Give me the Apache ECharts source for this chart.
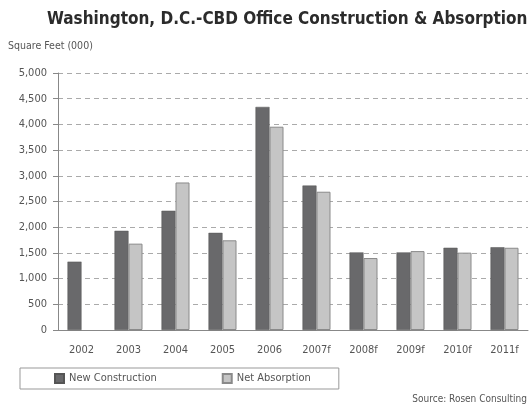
<!DOCTYPE html>
<html>
<head>
<meta charset="utf-8">
<script src="https://cdn.jsdelivr.net/npm/echarts@6/dist/echarts.min.js"></script>
<style>
  html, body { margin: 0; padding: 0; background: #fff; }
  #chart { width: 531px; height: 409px; }
</style>
</head>
<body>
<div id="chart"></div>
<script>
// values (square feet, 000)
const years = ['2002', '2003', '2004', '2005', '2006', '2007f', '2008f', '2009f', '2010f', '2011f'];
const newConstruction = [1330, 1930, 2320, 1890, 4340, 2810, 1510, 1510, 1600, 1610];
const netAbsorption = [null, 1680, 2870, 1745, 3955, 2690, 1400, 1535, 1505, 1600];

const narrow = '"DejaVu Sans Condensed", "Liberation Sans Narrow", sans-serif';
const chart = echarts.init(document.getElementById('chart'));

const option = {
  animation: false,
  title: {
    text: 'Washington, D.C.-CBD Office Construction & Absorption',
    left: 42,
    top: 6,
    textStyle: { fontFamily: narrow, fontWeight: 'bold', fontSize: 17, color: '#2b2b2b' }
  },
  graphic: [
    {
      type: 'text', left: 8, top: 41,
      style: { text: 'Square Feet (000)', fontFamily: narrow, fontSize: 10.5, fill: '#555' }
    },
    {
      type: 'text', right: 4, top: 394,
      style: { text: 'Source: Rosen Consulting', fontFamily: narrow, fontSize: 10, fill: '#555' }
    }
  ],
  legend: {
    left: 20,
    top: 368,
    padding: [5, 28, 5, 34],
    itemGap: 65,
    itemWidth: 9,
    itemHeight: 9,
    borderColor: '#999',
    borderWidth: 1,
    icon: 'rect',
    textStyle: { fontFamily: narrow, fontSize: 11, color: '#555' },
    data: ['New Construction', 'Net Absorption']
  },
  grid: { left: 58, right: 3, top: 73, bottom: 79 },
  xAxis: {
    type: 'category',
    data: years,
    axisLine: { lineStyle: { color: '#888' } },
    axisTick: { length: 5, lineStyle: { color: '#888' } },
    axisLabel: { margin: 15, fontFamily: narrow, fontSize: 11, color: '#555' }
  },
  yAxis: {
    type: 'value',
    min: 0,
    max: 5000,
    interval: 500,
    axisLine: { show: true, lineStyle: { color: '#888' } },
    axisTick: { show: true, length: 5, lineStyle: { color: '#888' } },
    axisLabel: {
      margin: 11, fontFamily: narrow, fontSize: 11, color: '#555',
      formatter: v => v.toLocaleString('en-US')
    },
    splitLine: { lineStyle: { color: '#aaa', type: [5, 4] } }
  },
  series: [
    {
      name: 'New Construction',
      type: 'bar',
      barWidth: 14,
      barGap: '0%',
      itemStyle: { color: '#69696b', borderColor: '#555', borderWidth: 0.5 },
      data: newConstruction
    },
    {
      name: 'Net Absorption',
      type: 'bar',
      barWidth: 14,
      itemStyle: { color: '#c5c5c5', borderColor: '#8a8a8a', borderWidth: 1 },
      data: netAbsorption
    }
  ]
};
chart.setOption(option);
</script>
</body>
</html>
